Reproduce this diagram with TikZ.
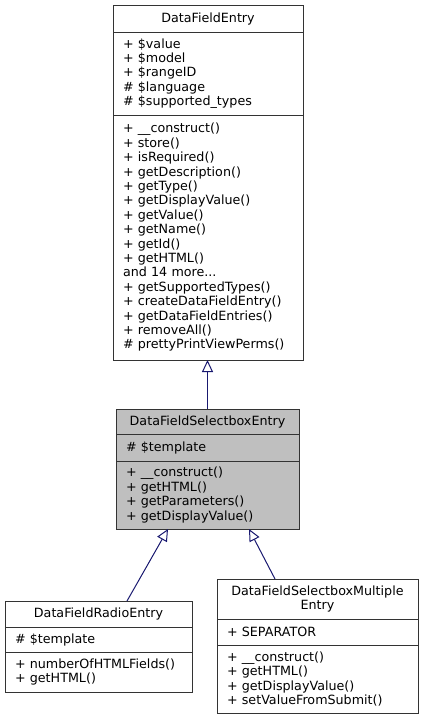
\documentclass[tikz,border=0pt]{standalone}
\usepackage{fontspec}
\setmainfont{DejaVu Sans}
\usepackage{tikz}
\usetikzlibrary{positioning, arrows.meta}
\definecolor{edgeblue}{HTML}{191970}
\definecolor{current}{HTML}{BFBFBF}
\tikzstyle{compart}=[draw=black!80, line width=1pt, inner sep=0pt, outer sep=0pt, font=\fontsize{12.7}{14.4}\selectfont]
\tikzstyle{title}=[compart, align=center]
\tikzstyle{members}=[compart, align=left, inner xsep=10pt]
\tikzstyle{inherit}=[->, >={Triangle[open, length=12pt, width=11pt]}, edgeblue, line width=1pt]

\begin{document}
\begin{tikzpicture}[x=1pt, y=-1pt]
      \useasboundingbox (0,0) rectangle (423,720);

      % base class
      \node[title, anchor=north west, text width=190pt, minimum height=27pt] (entryTitle) at (113,5) {DataFieldEntry};
      \node[members, below=0pt of entryTitle, text width=170pt, minimum height=83pt] (entryAttrs)
        {+ \$value\\+ \$model\\+ \$rangeID\\\# \$language\\\# \$supported\_types};
      \node[members, below=0pt of entryAttrs, text width=170pt, minimum height=245pt] (entryMethods)
        {+ \_\_construct()\\+ store()\\+ isRequired()\\+ getDescription()\\+ getType()\\+ getDisplayValue()\\+ getValue()\\+ getName()\\+ getId()\\+ getHTML()\\and 14 more...\\+ getSupportedTypes()\\+ createDataFieldEntry()\\+ getDataFieldEntries()\\+ removeAll()\\\# prettyPrintViewPerms()};

      % selectbox
      \node[title, fill=current, anchor=north west, text width=183pt, minimum height=25pt] (selTitle) at (116,409) {DataFieldSelectboxEntry};
      \node[members, fill=current, below=0pt of selTitle, text width=163pt, minimum height=27pt] (selAttrs) {\# \$template};
      \node[members, fill=current, below=0pt of selAttrs, text width=163pt, minimum height=68pt] (selMethods)
        {+ \_\_construct()\\+ getHTML()\\+ getParameters()\\+ getDisplayValue()};

      % radio
      \node[title, anchor=north west, text width=187pt, minimum height=26pt] (radioTitle) at (5,601) {DataFieldRadioEntry};
      \node[members, below=0pt of radioTitle, text width=167pt, minimum height=25pt] (radioAttrs) {\# \$template};
      \node[members, below=0pt of radioAttrs, text width=167pt, minimum height=40pt] (radioMethods)
        {+ numberOfHTMLFields()\\+ getHTML()};

      % multiple
      \node[title, anchor=north west, text width=201pt, minimum height=40pt] (multiTitle) at (217,579) {DataFieldSelectboxMultiple\\Entry};
      \node[members, below=0pt of multiTitle, text width=181pt, minimum height=26pt] (multiAttrs) {+ SEPARATOR};
      \node[members, below=0pt of multiAttrs, text width=181pt, minimum height=68pt] (multiMethods)
        {+ \_\_construct()\\+ getHTML()\\+ getDisplayValue()\\+ setValueFromSubmit()};

      \draw[inherit] (selTitle.north) -- (selTitle.north |- entryMethods.south);
      \draw[inherit] ([xshift=28.5pt]radioTitle.north) -- ([xshift=-39.5pt]selMethods.south);
      \draw[inherit] ([xshift=-42.5pt]multiTitle.north) -- ([xshift=41.5pt]selMethods.south);

    \end{tikzpicture}
\end{document}
